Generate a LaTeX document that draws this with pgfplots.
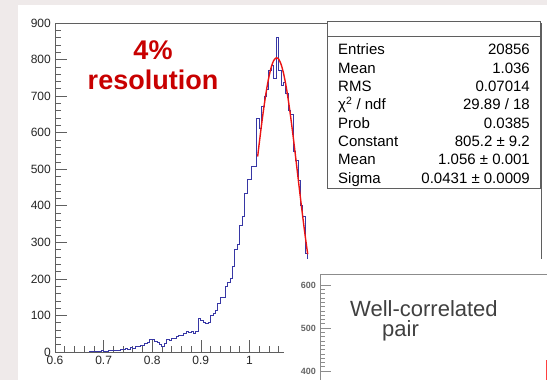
\documentclass[border=0pt]{standalone}
\usepackage{pgfplots}
\pgfplotsset{compat=1.18}
\usepackage{fontspec}
\setmainfont{Liberation Sans}
\definecolor{bgslide}{RGB}{239,234,234}
\definecolor{histblue}{RGB}{55,55,165}
\definecolor{fitred}{RGB}{235,20,20}
\definecolor{labred}{RGB}{200,0,0}
\definecolor{framegray}{RGB}{95,95,95}
\begin{document}
\begin{tikzpicture}[x=1pt,y=1pt]
\fill[bgslide] (0,0) rectangle (547,380);
\fill[white] (18,0) rectangle (547,375);
\begin{axis}[at={(55pt,28pt)}, anchor=south west, scale only axis,
  width=486pt, height=329pt,
  xmin=0.6, xmax=1.6, ymin=0, ymax=900,
  axis line style={framegray, line width=0.8pt},
  tick style={framegray, line width=0.6pt},
  tick align=inside, xtick pos=left, ytick pos=left,
  xtick={0.6,0.7,0.8,0.9,1.0,1.1,1.2,1.3,1.4,1.5,1.6},
  xticklabels={0.6,0.7,0.8,0.9,1,1.1,1.2,1.3,1.4,1.5,1.6},
  ytick={0,100,200,300,400,500,600,700,800,900},
  yticklabels={0,100,200,300,400,500,600,700,800,900},
  minor x tick num=4, minor y tick num=4,
  major tick length=12pt, minor tick length=6pt,
  ticklabel style={font=\fontsize{12}{12}\selectfont, text=black!85},
  yticklabel style={anchor=east, inner sep=0pt, xshift=-4pt},
  xticklabel style={anchor=north, inner sep=0pt, yshift=-4pt},
  clip=true]
\addplot[const plot, histblue, line width=0.9pt] coordinates {
(0.600,0) (0.670,1) (0.675,2) (0.680,1) (0.685,2) (0.690,1) (0.695,3)
(0.700,2) (0.705,2) (0.710,3) (0.715,4) (0.720,3) (0.725,5) (0.730,4)
(0.735,7) (0.740,6) (0.745,10) (0.750,8) (0.755,13) (0.760,11) (0.765,16)
(0.770,14) (0.775,19) (0.780,17) (0.785,23) (0.790,27) (0.795,33)
(0.800,34) (0.805,30) (0.810,27) (0.815,22) (0.820,15) (0.825,24)
(0.830,33) (0.835,31) (0.840,38) (0.845,36) (0.850,43) (0.855,46)
(0.860,44) (0.865,52) (0.870,56) (0.875,53) (0.880,55) (0.885,52)
(0.890,56) (0.895,93) (0.900,86) (0.905,81) (0.910,79) (0.915,82)
(0.920,100) (0.925,106) (0.930,115) (0.935,134) (0.940,148) (0.945,150)
(0.950,179) (0.955,190) (0.960,200) (0.965,233) (0.970,280) (0.975,295)
(0.980,347) (0.985,370) (0.990,435) (0.995,472) (1.000,472) (1.005,507)
(1.010,507) (1.015,639) (1.020,612) (1.025,673) (1.030,699) (1.035,717)
(1.040,769) (1.045,785) (1.050,749) (1.055,860) (1.060,771) (1.065,730)
(1.070,737) (1.075,707) (1.080,662) (1.085,650) (1.090,548) (1.095,525)
(1.100,470) (1.105,400) (1.110,370) (1.115,270) (1.120,240) (1.125,205)
(1.130,172) (1.135,140) (1.140,112) (1.145,88) (1.150,70) (1.155,53)
(1.160,41) (1.165,31) (1.170,23) (1.175,17) (1.180,12) (1.185,9)
(1.190,6) (1.195,4) (1.200,3) (1.205,2) (1.210,1) (1.215,1) (1.220,0)
(1.600,0)};
\addplot[fitred, line width=1.4pt, smooth] coordinates {
(1.017,534.7) (1.020,568.1) (1.025,621.7) (1.030,671.2) (1.035,715.1)
(1.040,751.6) (1.045,779.4) (1.050,797.5) (1.056,805.2) (1.060,801.7)
(1.065,787.8) (1.070,763.8) (1.075,730.6) (1.080,689.6) (1.085,642.1)
(1.090,589.9) (1.095,534.7) (1.100,478.2) (1.105,421.9) (1.110,367.3)
(1.115,315.5) (1.120,267.4)};
\end{axis}
% annotation
\node[anchor=base, text=labred, font=\fontsize{27}{27}\selectfont\bfseries, inner sep=0pt] at (153,320) {4\%};
\node[anchor=base, text=labred, font=\fontsize{27}{27}\selectfont\bfseries, inner sep=0pt] at (153,290) {resolution};
% stats box
\draw[framegray, fill=white, line width=0.8pt] (327,358.5) rectangle (540,192);
\draw[framegray, line width=0.8pt] (327,343.5) -- (540,343.5);
\begin{scope}[every node/.style={inner sep=0pt, font=\fontsize{15}{15}\selectfont, text=black}]
\node[anchor=base west] at (338,325) {Entries};
\node[anchor=base east] at (530,325) {20856};
\node[anchor=base west] at (338,306.7) {Mean};
\node[anchor=base east] at (530,306.7) {1.036};
\node[anchor=base west] at (338,288.4) {RMS};
\node[anchor=base east] at (530,288.4) {0.07014};
\node[anchor=base west] at (338,270.1) {χ\textsuperscript{2} / ndf};
\node[anchor=base east] at (530,270.1) {29.89 / 18};
\node[anchor=base west] at (338,251.8) {Prob};
\node[anchor=base east] at (530,251.8) {0.0385};
\node[anchor=base west] at (338,233.5) {Constant};
\node[anchor=base east] at (530,233.5) {805.2 ± 9.2};
\node[anchor=base west] at (338,215.2) {Mean};
\node[anchor=base east] at (530,215.2) {1.056 ± 0.001};
\node[anchor=base west] at (338,196.9) {Sigma};
\node[anchor=base east] at (530,196.9) {0.0431 ± 0.0009};
\end{scope}
% inset
\fill[white] (284,0) rectangle (547,121);
\begin{scope}
\clip (0,0) rectangle (547,380);
\begin{axis}[at={(320pt,-3pt)}, anchor=south west, scale only axis,
  width=260pt, height=108pt,
  xmin=0, xmax=1, ymin=372.1, ymax=623.3,
  axis x line*=top, axis y line*=left,
  xtick=\empty, ytick={400,500,600}, yticklabels={400,500,600},
  minor y tick num=9, tick align=inside,
  major tick length=11pt, minor tick length=5pt,
  axis line style={black!45, line width=1pt},
  tick style={black!45, line width=0.6pt},
  yticklabel style={font=\fontsize{9}{9}\selectfont\bfseries, text=black!60, anchor=east, inner sep=0pt, xshift=-4pt},
  clip=true]
\addplot[red!75, line width=1pt] coordinates {(0.87,360) (0.87,425) (1,425)};
\end{axis}
\end{scope}
\node[anchor=base west, inner sep=0pt, font=\fontsize{22}{22}\selectfont, text=black!75] at (350,63) {Well-correlated};
\node[anchor=base west, inner sep=0pt, font=\fontsize{22}{22}\selectfont, text=black!75] at (382,43) {pair};
\pgfresetboundingbox
\useasboundingbox (0,0) rectangle (547,380);
\end{tikzpicture}
\end{document}
